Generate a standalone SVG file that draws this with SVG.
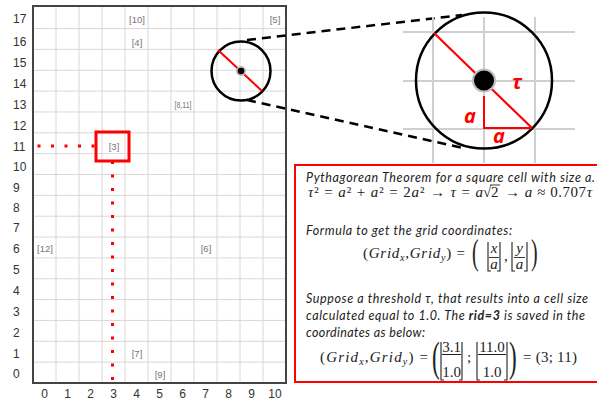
<svg xmlns="http://www.w3.org/2000/svg" width="597" height="402" viewBox="0 0 597 402">
<defs>
<style>
.gl{stroke:#d8d8d8;stroke-width:1;fill:none}
.zg{stroke:#cfcfcf;stroke-width:2;fill:none}
.ax{font-family:"Liberation Sans",Arial,sans-serif;font-size:12px;fill:#333}
.pt{font-family:"Liberation Sans",Arial,sans-serif;font-size:9.5px;fill:#777;text-anchor:middle}
.body{font-family:Lato,"Open Sans",sans-serif;font-style:italic;font-size:12.5px;fill:#222}
.m{font-family:"Liberation Serif","Times New Roman",serif;font-size:15px;fill:#222}
.mi{font-style:italic}
.big{font-family:"Liberation Serif","Times New Roman",serif;fill:#222}
.br{stroke:#222;stroke-width:1.1;fill:none}
.rl{font-family:"Open Sans",Lato,sans-serif;font-weight:bold;font-style:italic;font-size:20px;fill:#ff0000;text-anchor:middle}
.dash{stroke:#000;stroke-width:2.5;stroke-dasharray:9 6;fill:none}
.dot{stroke:#ff0000;stroke-width:3;stroke-dasharray:3 10.5;fill:none}
</style>
</defs>
<rect width="597" height="402" fill="#fff"/>

<g id="grid">
<path class="gl" d="M56 6V383M79 6V383M102 6V383M125 6V383M148 6V383M171 6V383M194 6V383M217 6V383M240 6V383M263 6V383"/>
<path class="gl" d="M33 362.15H286M33 341.3H286M33 320.45H286M33 299.6H286M33 278.75H286M33 257.9H286M33 237.05H286M33 216.2H286M33 195.35H286M33 174.5H286M33 153.65H286M33 132.8H286M33 111.95H286M33 91.1H286M33 70.25H286M33 49.4H286M33 28.55H286"/>
<rect x="33" y="6" width="253" height="377" fill="none" stroke="#444" stroke-width="2"/>
</g>

<g id="y-axis" class="ax">
<text x="13" y="23">17</text><text x="13" y="46">16</text><text x="13" y="66.5">15</text><text x="13" y="87.5">14</text>
<text x="13" y="108.5">13</text><text x="13" y="129.5">12</text><text x="13" y="150.5">11</text><text x="13" y="170.5">10</text>
<text x="13" y="191.5">9</text><text x="13" y="211.5">8</text><text x="13" y="231.5">7</text><text x="13" y="252.5">6</text>
<text x="13" y="273.5">5</text><text x="13" y="294.5">4</text><text x="13" y="315.5">3</text><text x="13" y="336.5">2</text>
<text x="13" y="357.5">1</text><text x="13" y="378">0</text>
</g>
<g id="x-axis" class="ax" text-anchor="middle">
<text x="44.5" y="398">0</text><text x="67.5" y="398">1</text><text x="90.5" y="398">2</text><text x="113.5" y="398">3</text>
<text x="136.5" y="398">4</text><text x="159.5" y="398">5</text><text x="182.5" y="398">6</text><text x="205.5" y="398">7</text>
<text x="228.5" y="398">8</text><text x="251.5" y="398">9</text><text x="275" y="398">10</text>
</g>

<g id="points" class="pt">
<text x="137" y="22.5">[10]</text>
<text x="275" y="22.5">[5]</text>
<text x="137" y="45.5">[4]</text>
<text x="183" y="107.5" textLength="17" lengthAdjust="spacingAndGlyphs">[8,11]</text>
<text x="114" y="149.5">[3]</text>
<text x="45" y="251.5">[12]</text>
<text x="206" y="251.5">[6]</text>
<text x="137" y="356.5">[7]</text>
<text x="160" y="377.5">[9]</text>
</g>

<g id="highlight">
<rect x="96" y="132" width="33" height="29" fill="none" stroke="#ff0000" stroke-width="3"/>
<path class="dot" d="M37.5 146H95"/>
<path class="dot" d="M112.5 161V380"/>
</g>

<g id="connectors">
<path class="dash" d="M247 40L462 15"/>
<path class="dash" d="M247 100L463 148"/>
</g>

<g id="small-circle">
<circle cx="241" cy="71" r="29.5" fill="none" stroke="#000" stroke-width="2.5"/>
<line x1="218" y1="50" x2="262" y2="91" stroke="#ff0000" stroke-width="2"/>
<circle cx="241" cy="71" r="5" fill="#bbb"/>
<circle cx="241" cy="71" r="3.3" fill="#000"/>
</g>

<g id="zoom-circle">
<path class="zg" d="M403 32H575M403 81H575M403 129H575M433 17V163M484 17V163M535 17V163"/>
<circle cx="484" cy="80.5" r="68" fill="none" stroke="#000" stroke-width="2.5"/>
<line x1="434" y1="33" x2="532" y2="128" stroke="#ff0000" stroke-width="2.2"/>
<path d="M484 96V128H532" fill="none" stroke="#ff0000" stroke-width="2"/>
<circle cx="484" cy="80.5" r="12" fill="#bdbdbd"/>
<circle cx="484" cy="80.5" r="10" fill="#000"/>
<text class="rl" x="517" y="89">τ</text>
<text class="rl" x="470" y="123">a</text>
<text class="rl" x="499" y="143">a</text>
</g>

<g id="textbox">
<rect x="295" y="165" width="330" height="217" fill="#fff" stroke="#ff0000" stroke-width="2"/>
<text class="body" x="306" y="182" textLength="289" lengthAdjust="spacing">Pythagorean Theorem for a square cell with size a.</text>
<text class="m" x="308" y="197" textLength="175" lengthAdjust="spacing"><tspan class="mi">τ</tspan>² = <tspan class="mi">a</tspan>² + <tspan class="mi">a</tspan>² = 2<tspan class="mi">a</tspan>² → <tspan class="mi">τ</tspan> = <tspan class="mi">a</tspan></text>
<text class="m" x="483" y="197">√</text>
<text class="m" x="491" y="197">2</text>
<line x1="490" y1="185" x2="500" y2="185" stroke="#222" stroke-width="0.9"/>
<text class="m" x="505" y="197" textLength="87" lengthAdjust="spacing">→ <tspan class="mi">a</tspan> ≈ 0.707<tspan class="mi">τ</tspan></text>

<text class="body" x="306" y="235" textLength="206" lengthAdjust="spacing">Formula to get the grid coordinates:</text>
<text class="m" x="363" y="258" textLength="102" lengthAdjust="spacing">(<tspan class="mi">Grid</tspan><tspan class="mi" font-size="10" dy="3">x</tspan><tspan dy="-3">,</tspan><tspan class="mi">Grid</tspan><tspan class="mi" font-size="10" dy="3">y</tspan><tspan dy="-3">) =</tspan></text>
<text class="big" font-size="36" transform="translate(472 264) scale(0.55 1)">(</text>
<path class="br" d="M488 242V271H491M500 242V271H497"/>
<text class="m mi" x="494" y="253" text-anchor="middle" font-size="13">x</text>
<line x1="489" y1="257.5" x2="499" y2="257.5" stroke="#222" stroke-width="0.9"/>
<text class="m mi" x="494" y="269" text-anchor="middle" font-size="13">a</text>
<text class="m" x="504" y="261">,</text>
<path class="br" d="M512 242V271H515M527 242V271H524"/>
<text class="m mi" x="519.5" y="253" text-anchor="middle" font-size="13">y</text>
<line x1="514" y1="257.5" x2="525" y2="257.5" stroke="#222" stroke-width="0.9"/>
<text class="m mi" x="519.5" y="269" text-anchor="middle" font-size="13">a</text>
<text class="big" font-size="36" transform="translate(531 264) scale(0.55 1)">)</text>

<text class="body" x="306" y="303" textLength="282" lengthAdjust="spacing">Suppose a threshold τ, that results into a cell size</text>
<text class="body" x="306" y="320" textLength="279" lengthAdjust="spacing">calculated equal to 1.0. The <tspan font-weight="bold">rid=3</tspan> is saved in the</text>
<text class="body" x="306" y="337" textLength="119" lengthAdjust="spacing">coordinates as below:</text>

<text class="m" x="320" y="362" textLength="108" lengthAdjust="spacing" font-size="15.5">(<tspan class="mi">Grid</tspan><tspan class="mi" font-size="10" dy="3">x</tspan><tspan dy="-3">,</tspan><tspan class="mi">Grid</tspan><tspan class="mi" font-size="10" dy="3">y</tspan><tspan dy="-3">) =</tspan></text>
<text class="big" font-size="42" transform="translate(432 370.5) scale(0.55 1)">(</text>
<path class="br" stroke-width="1.3" d="M441 342V380H444M462 342V380H459"/>
<text class="m" x="451.5" y="351.5" text-anchor="middle" font-size="13">3.1</text>
<line x1="442" y1="354.5" x2="461" y2="354.5" stroke="#222" stroke-width="1"/>
<text class="m" x="451.5" y="377" text-anchor="middle" font-size="13">1.0</text>
<text class="m" x="467" y="362">;</text>
<path class="br" stroke-width="1.3" d="M477 342V380H480M507 342V380H504"/>
<text class="m" x="492" y="351.5" text-anchor="middle" font-size="13">11.0</text>
<line x1="478" y1="354.5" x2="506" y2="354.5" stroke="#222" stroke-width="1"/>
<text class="m" x="492" y="377" text-anchor="middle" font-size="13">1.0</text>
<text class="big" font-size="42" transform="translate(509 370.5) scale(0.55 1)">)</text>
<text class="m" x="523" y="362" font-size="15" textLength="54" lengthAdjust="spacing">= (3; 11)</text>
</g>
</svg>
